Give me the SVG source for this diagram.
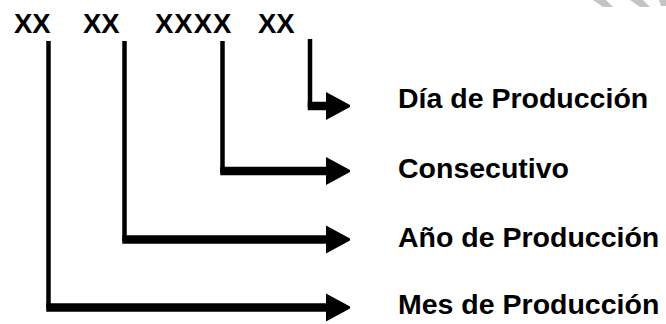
<svg xmlns="http://www.w3.org/2000/svg" width="666" height="324" viewBox="0 0 666 324">
<defs>
<style>
.code{font-family:"Liberation Sans",Arial,sans-serif;font-weight:bold;font-size:27.5px;fill:#000}
.lbl{font-family:"Liberation Sans",Arial,sans-serif;font-weight:bold;font-size:28.5px;fill:#000}
.v{stroke:#000;stroke-width:4.5;fill:none}
.h{stroke:#000;stroke-width:8.5;fill:none}
.wm{fill:#c4c4c4}
</style>
<marker id="ah" markerUnits="userSpaceOnUse" markerWidth="26" markerHeight="30" viewBox="0 -15 26 30" refX="2" refY="0" orient="auto">
<path d="M0,-14 L24,-1 L24,1 L0,14 Z" fill="#000"/>
</marker>
</defs>
<rect width="666" height="324" fill="#fff"/>
<g id="watermark">
<polygon class="wm" points="593,0 606,0 613,7 603,7"/>
<polygon class="wm" points="630,0 643,0 650,7 640,7"/>
<polygon class="wm" points="659,0 666,0 666,6 661,6"/>
</g>
<g id="code">
<text class="code" x="14" y="33">XX</text>
<text class="code" x="83" y="33">XX</text>
<text class="code" x="155" y="33" letter-spacing="1">XXXX</text>
<text class="code" x="258" y="33">XX</text>
</g>
<g id="connectors">
<line class="v" x1="310" y1="39" x2="310" y2="108"/>
<line class="h" x1="307.75" y1="106" x2="328" y2="106" marker-end="url(#ah)"/>
<line class="v" x1="222.5" y1="41" x2="222.5" y2="173"/>
<line class="h" x1="220.25" y1="171" x2="328" y2="171" marker-end="url(#ah)"/>
<line class="v" x1="124.5" y1="41" x2="124.5" y2="241"/>
<line class="h" x1="122.25" y1="239.5" x2="328" y2="239.5" marker-end="url(#ah)"/>
<line class="v" x1="48.5" y1="41" x2="48.5" y2="309"/>
<line class="h" x1="46.25" y1="307.5" x2="328" y2="307.5" marker-end="url(#ah)"/>
</g>
<g id="label-dia"><text class="lbl" x="398" y="108">Día de Producción</text></g>
<g id="label-consecutivo"><text class="lbl" x="398" y="178">Consecutivo</text></g>
<g id="label-ano"><text class="lbl" x="398" y="247">Año de Producción</text></g>
<g id="label-mes"><text class="lbl" x="398" y="314">Mes de Producción</text></g>
</svg>
